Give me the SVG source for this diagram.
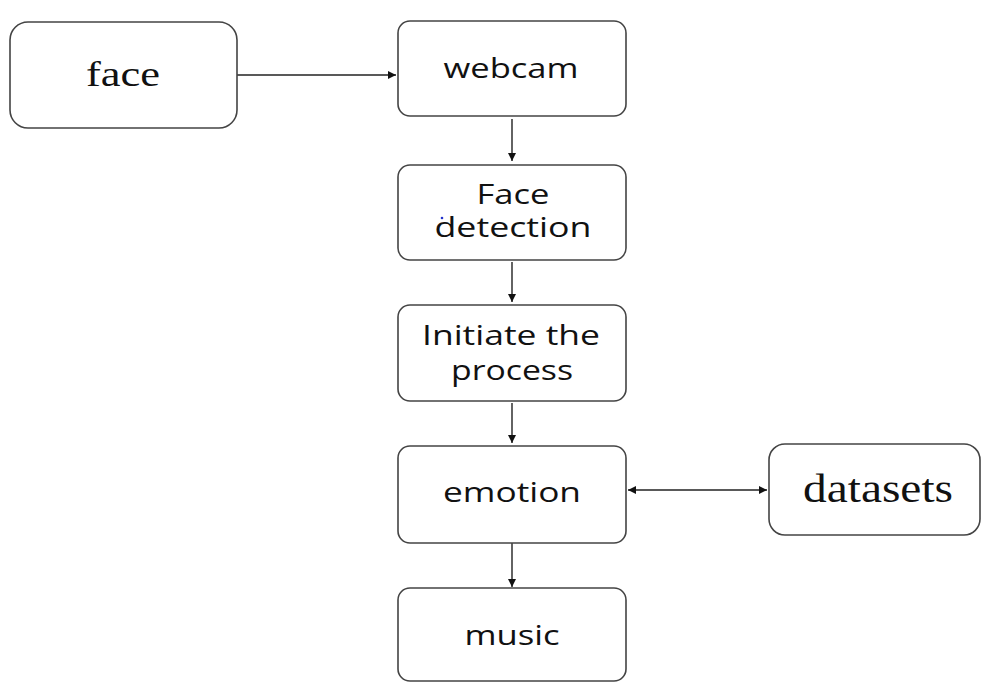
<svg xmlns="http://www.w3.org/2000/svg" width="981" height="682" viewBox="0 0 981 682">
<style>
.box{fill:#fff;stroke:#444;stroke-width:1.6}
.serif{font-family:"Liberation Serif","Times New Roman",serif;fill:#111}
.sans{font-family:"Open Sans","Noto Sans",sans-serif;font-size:28px;fill:#111}
.conn{stroke:#222;stroke-width:1.4;fill:none}
</style>
<defs>
<marker id="ah" viewBox="0 0 10 10" refX="10" refY="5" markerWidth="8" markerHeight="8" markerUnits="userSpaceOnUse" orient="auto-start-reverse">
<path d="M0,0 L10,5 L0,10 z" fill="#111"/>
</marker>
</defs>
<rect width="981" height="682" fill="#fff"/>
<g id="connectors">
<line class="conn" x1="237" y1="75" x2="396" y2="75" marker-end="url(#ah)"/>
<line class="conn" x1="512" y1="119" x2="512" y2="161" marker-end="url(#ah)"/>
<line class="conn" x1="512" y1="262" x2="512" y2="302" marker-end="url(#ah)"/>
<line class="conn" x1="512" y1="403" x2="512" y2="443" marker-end="url(#ah)"/>
<line class="conn" x1="512" y1="543" x2="512" y2="587" marker-end="url(#ah)"/>
<line class="conn" x1="628" y1="490" x2="767" y2="490" marker-start="url(#ah)" marker-end="url(#ah)"/>
</g>
<g id="face">
<rect class="box" x="10" y="22" width="227" height="106" rx="18"/>
<text class="serif" x="123" y="86" font-size="35" text-anchor="middle" textLength="74" lengthAdjust="spacingAndGlyphs">face</text>
</g>
<g id="webcam">
<rect class="box" x="398" y="21" width="228" height="95" rx="12"/>
<text class="sans" x="511" y="78" text-anchor="middle" textLength="135" lengthAdjust="spacingAndGlyphs">webcam</text>
</g>
<g id="face-detection">
<rect class="box" x="398" y="165" width="228" height="95" rx="12"/>
<text class="sans" x="513" y="204" text-anchor="middle" textLength="73" lengthAdjust="spacingAndGlyphs">Face</text>
<text class="sans" x="513" y="237" text-anchor="middle" textLength="157" lengthAdjust="spacingAndGlyphs">detection</text>
<circle cx="442" cy="218" r="1.3" fill="#2233cc"/>
</g>
<g id="initiate">
<rect class="box" x="398" y="305" width="228" height="96" rx="12"/>
<text class="sans" x="511" y="345" text-anchor="middle" textLength="178" lengthAdjust="spacingAndGlyphs">Initiate the</text>
<text class="sans" x="512" y="380" text-anchor="middle" textLength="122" lengthAdjust="spacingAndGlyphs">process</text>
</g>
<g id="emotion">
<rect class="box" x="398" y="446" width="228" height="97" rx="12"/>
<text class="sans" x="512" y="502" text-anchor="middle" textLength="138" lengthAdjust="spacingAndGlyphs">emotion</text>
</g>
<g id="music">
<rect class="box" x="398" y="588" width="228" height="93" rx="12"/>
<text class="sans" x="512" y="645" text-anchor="middle" textLength="95" lengthAdjust="spacingAndGlyphs">music</text>
</g>
<g id="datasets">
<rect class="box" x="769" y="444" width="211" height="91" rx="16"/>
<text class="serif" x="878" y="502" font-size="40" text-anchor="middle" textLength="150" lengthAdjust="spacingAndGlyphs">datasets</text>
</g>
</svg>
